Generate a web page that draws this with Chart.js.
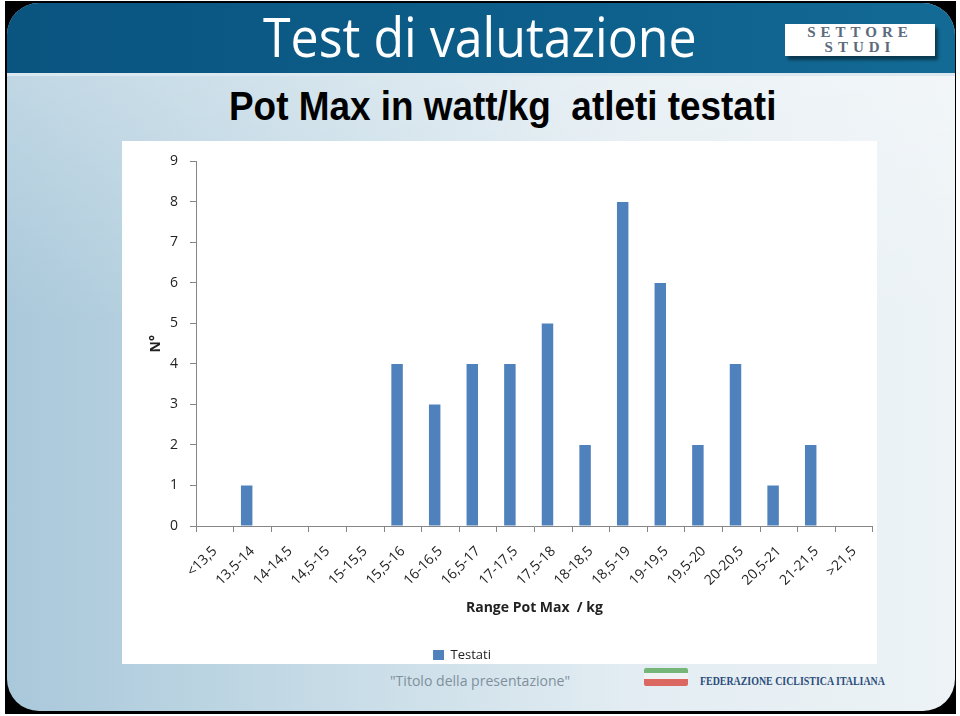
<!DOCTYPE html>
<html lang="it">
<head>
    <meta charset="UTF-8">
    <title>Test di valutazione - Pot Max in watt/kg</title>
    <script src="https://cdn.jsdelivr.net/npm/chart.js"></script>
    <style>
        html, body {
            margin: 0;
            padding: 0;
            background: #fff;
        }
        body {
            width: 960px;
            height: 716px;
            position: relative;
            overflow: hidden;
            font-family: "Open Sans", sans-serif;
        }
        .cornice {
            position: absolute;
            left: 5px;
            top: 1px;
            width: 951px;
            height: 713px;
            background: #000;
        }
        .slide {
            position: absolute;
            left: 7px;
            top: 3px;
            width: 948px;
            height: 708px;
            border-radius: 32px;
            overflow: hidden;
            background:
                linear-gradient(180deg, rgba(255,255,255,0.35) 0%, rgba(255,255,255,0) 45%),
                linear-gradient(90deg, #a9c8da 0%, #c3d9e5 30%, #e2ecf2 65%, #edf3f6 100%);
        }
        .testata {
            position: absolute;
            left: 0;
            top: 0;
            width: 100%;
            height: 70px;
            background: linear-gradient(90deg, #0a5480 0%, #0d5e8a 55%, #136b95 100%);
        }
        .filetto {
            position: absolute;
            left: 0;
            top: 70px;
            width: 100%;
            height: 3px;
            background: #dbe8ef;
        }
        .testo {
            position: absolute;
            white-space: nowrap;
            transform-origin: left center;
        }
        #titolo {
            top: 9px;
            font-family: "Open Sans", sans-serif;
            font-size: 54px;
            line-height: 54px;
            color: #fff;
        }
        #sottotitolo {
            top: 86px;
            font-family: "Liberation Sans", Arial, sans-serif;
            font-weight: bold;
            font-size: 40px;
            line-height: 40px;
            color: #000;
        }
        #piede {
            top: 673px;
            font-size: 15px;
            line-height: 15px;
            color: #7f909c;
        }
        #federazione {
            top: 675px;
            font-family: "Liberation Serif", serif;
            font-weight: bold;
            font-size: 12px;
            line-height: 12px;
            color: #2b4d7a;
        }
        .logo {
            position: absolute;
            left: 785px;
            top: 24px;
            width: 150px;
            height: 31px;
            background: #fff;
            box-shadow: 3px 4px 3px rgba(0,0,0,0.45);
            text-align: center;
            font-family: "Liberation Serif", serif;
            font-weight: bold;
            font-size: 15px;
            line-height: 15px;
            color: #5b6b7b;
            letter-spacing: 5px;
            padding-top: 1px;
        }
        .bandiera {
            position: absolute;
            left: 644px;
            top: 668px;
            width: 44px;
            height: 18px;
            border-radius: 2px;
            background: linear-gradient(180deg, #5aa85a 0%, #5aa85a 28%, #f3f3f3 28%, #f3f3f3 60%, #d9473c 60%, #d9473c 100%);
            opacity: 0.8;
        }
        .riquadro {
            position: absolute;
            left: 122px;
            top: 141px;
            width: 755px;
            height: 523px;
            background: #fff;
        }
    </style>
</head>
<body>
    <div class="cornice"></div>
    <div class="slide">
        <div class="testata"></div>
        <div class="filetto"></div>
    </div>

    <div class="testo" id="titolo">Test di valutazione</div>
    <div class="logo">SETTORE<br>STUDI</div>
    <div class="testo" id="sottotitolo">Pot Max in watt/kg&nbsp; atleti testati</div>

    <div class="riquadro">
        <canvas id="grafico"></canvas>
    </div>

    <div class="testo" id="piede">"Titolo della presentazione"</div>
    <div class="bandiera"></div>
    <div class="testo" id="federazione">FEDERAZIONE CICLISTICA ITALIANA</div>

    <script>
        // Dati
        const categorie = ['<13,5', '13,5-14', '14-14,5', '14,5-15', '15-15,5', '15,5-16', '16-16,5', '16,5-17', '17-17,5',
            '17,5-18', '18-18,5', '18,5-19', '19-19,5', '19,5-20', '20-20,5', '20,5-21', '21-21,5', '>21,5'];
        const testati = [0, 1, 0, 0, 0, 4, 3, 4, 4, 5, 2, 8, 6, 2, 4, 1, 2, 0];
        const serieVuota = [];   // seconda serie vuota del foglio originale (sposta le barre a sinistra)
        const yMin = 0;
        const yMax = 9;

        // Adatta la larghezza di un testo e lo centra su cx
        function adatta(id, cx, larghezza) {
            const el = document.getElementById(id);
            const w = el.offsetWidth;
            el.style.left = (cx - larghezza / 2) + 'px';
            el.style.transform = 'scaleX(' + (larghezza / w) + ')';
        }

        adatta('titolo', 480, 434);
        adatta('sottotitolo', 502, 547);
        adatta('piede', 480, 180);
        adatta('federazione', 792, 185);

        // Posiziona la legenda come nell'originale
        const spostaLegenda = {
            id: 'spostaLegenda',
            afterLayout(chart) {
                const l = chart.legend;
                l.left -= 36; l.right -= 36;
                l.top += 7.5; l.bottom += 7.5;
            }
        };

        const grigio = '#868686';
        const font = { family: 'Open Sans', size: 14 };

        new Chart(document.getElementById('grafico'), {
            type: 'bar',
            data: {
                labels: categorie,
                datasets: [{
                    label: 'Testati',
                    data: testati,
                    backgroundColor: '#4f81bd',
                    borderWidth: 0,
                    categoryPercentage: 0.61,
                    barPercentage: 1
                }, {
                    label: '',
                    data: serieVuota,
                    backgroundColor: '#c0504d',
                    categoryPercentage: 0.61,
                    barPercentage: 1
                }]
            },
            options: {
                responsive: true,
                maintainAspectRatio: false,
                animation: false,
                layout: { padding: { top: 20, right: 3, left: 0, bottom: 0 } },
                plugins: {
                    tooltip: { enabled: false },
                    legend: {
                        position: 'bottom',
                        labels: {
                            boxWidth: 11,
                            boxHeight: 10,
                            padding: 10,
                            color: '#222',
                            font: { family: 'Open Sans', size: 13 },
                            filter: item => item.datasetIndex === 0
                        }
                    }
                },
                scales: {
                    x: {
                        ticks: {
                            autoSkip: false,
                            minRotation: 45,
                            maxRotation: 45,
                            padding: 11,
                            color: '#222',
                            font: font
                        },
                        grid: { offset: true, drawOnChartArea: false, tickLength: 6, color: grigio },
                        border: { color: grigio },
                        title: {
                            display: true,
                            text: 'Range Pot Max  / kg',
                            color: '#222',
                            font: { family: 'Open Sans', size: 14, weight: 'bold' },
                            padding: { top: 0, bottom: 15 }
                        },
                        afterFit: s => { s.height = 105; }
                    },
                    y: {
                        min: yMin,
                        max: yMax,
                        ticks: { stepSize: 1, padding: 12, color: '#222', font: font },
                        grid: { drawOnChartArea: false, tickLength: 6, color: grigio },
                        border: { color: grigio },
                        title: {
                            display: true,
                            text: 'N°',
                            color: '#222',
                            font: { family: 'Open Sans', size: 14, weight: 'bold' },
                            padding: { top: 26, bottom: 0 }
                        },
                        afterFit: s => { s.width = 74; }
                    }
                }
            },
            plugins: [spostaLegenda]
        });
    </script>
</body>
</html>
